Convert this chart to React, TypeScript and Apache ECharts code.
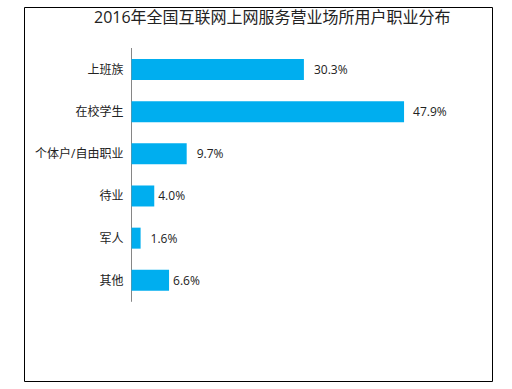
import React, { useEffect, useRef } from "react";
import * as echarts from "echarts";

const titleText = "2016年全国互联网上网服务营业场所用户职业分布";
const categories = ["上班族", "在校学生", "个体户/自由职业", "待业", "军人", "其他"];
const values = [30.3, 47.9, 9.7, 4.0, 1.6, 6.6];
const labelGaps = [10, 9, 10, 4, 10, 4];

const FONT = '"Open Sans", "Noto Sans CJK SC", sans-serif';

export default function App() {
  const ref = useRef<HTMLDivElement>(null);
  useEffect(() => {
    const chart = echarts.init(ref.current!, undefined, { renderer: "svg" });
    chart.setOption({
      animation: false,
      backgroundColor: "#ffffff",
      title: {
        text: titleText,
        left: 94,
        top: 9,
        padding: 0,
        textStyle: { fontFamily: FONT, fontSize: 16, fontWeight: "normal", color: "#222222" },
      },
      grid: { left: 131.5, top: 48.4, width: 341.4, height: 253, containLabel: false },
      xAxis: { type: "value", min: 0, max: 60, show: false },
      yAxis: {
        type: "category",
        inverse: true,
        data: categories,
        axisLine: { show: true, lineStyle: { color: "#868686", width: 1 } },
        axisTick: { show: false },
        axisLabel: { fontFamily: FONT, fontSize: 12, color: "#222222", margin: 8 },
      },
      series: [
        {
          type: "bar",
          barWidth: 21,
          data: values.map((v, i) => ({
            value: v,
            label: { distance: labelGaps[i] },
          })),
          itemStyle: { color: "#00AEEF" },
          label: {
            show: true,
            position: "right",
            fontFamily: FONT,
            fontSize: 12,
            color: "#222222",
            formatter: (p: any) => p.value.toFixed(1) + "%",
          },
        },
      ],
      graphic: [
        {
          type: "rect",
          silent: true,
          shape: { x: 24.5, y: 7.5, width: 468, height: 374 },
          style: { fill: "none", stroke: "#000000", lineWidth: 1 },
        },
      ],
    });
    return () => chart.dispose();
  }, []);
  return (
    <div
      ref={ref}
      style={{ position: "absolute", left: 0, top: 0, width: 512, height: 389 }}
    />
  );
}
